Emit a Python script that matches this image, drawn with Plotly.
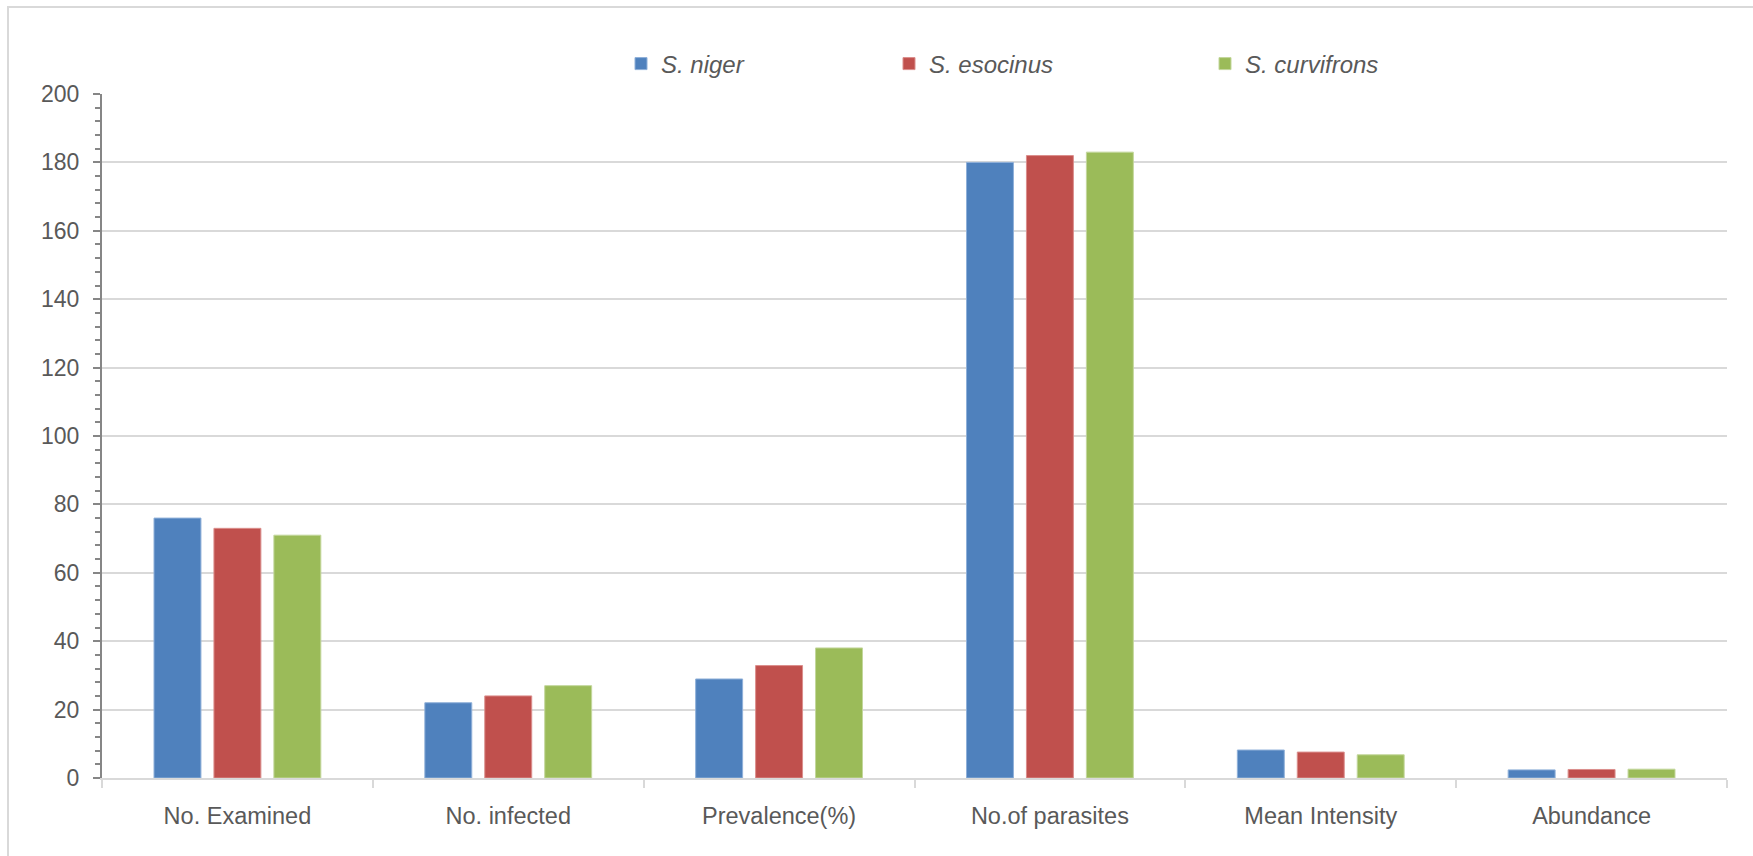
import plotly.graph_objects as go

# Parasite infection indices for three Schizothorax species
categories = ["No. Examined", "No. infected", "Prevalence(%)",
              "No.of parasites", "Mean Intensity", "Abundance"]
s_niger = [76, 22, 28.95, 180, 8.18, 2.37]
s_esocinus = [73, 24, 32.88, 182, 7.58, 2.49]
s_curvifrons = [71, 27, 38.03, 183, 6.78, 2.58]
series_names = ["<i>S. niger</i>", "<i>S. esocinus</i>", "<i>S. curvifrons</i>"]
y_ticks = [0, 20, 40, 60, 80, 100, 120, 140, 160, 180, 200]

colors = ["#4F81BD", "#C0504D", "#9BBB59"]
edge_colors = ["#8FB0D9", "#DB8E8C", "#C3D79C"]
legend_ids = ["legend", "legend2", "legend3"]

TEXT = "#595959"
FONT = "Liberation Sans, Arial, sans-serif"

fig = go.Figure()
for name, vals, c, ec, lg in zip(series_names,
                                 [s_niger, s_esocinus, s_curvifrons],
                                 colors, edge_colors, legend_ids):
    fig.add_trace(go.Bar(
        x=categories, y=vals, name=name, legend=lg,
        marker=dict(color=c, line=dict(color=ec, width=1)),
    ))

W, H = 1753, 856
ML, MR, MT, MB = 102, 26, 94, 78
plot_w = W - ML - MR
plot_h = H - MT - MB


def px_to_paper_x(px):
    return (px - ML) / plot_w


def px_to_paper_y(py):
    return (H - MB - py) / plot_h


legend_common = dict(
    orientation="h", xanchor="left", yanchor="middle",
    y=px_to_paper_y(64), bgcolor="rgba(0,0,0,0)", borderwidth=0,
    font=dict(family=FONT, size=24, color=TEXT), itemwidth=30,
)

fig.update_layout(
    width=W, height=H,
    margin=dict(l=ML, r=MR, t=MT, b=MB, pad=0),
    paper_bgcolor="white", plot_bgcolor="white",
    barmode="group", bargap=0.336, bargroupgap=0.217,
    font=dict(family=FONT, color=TEXT),
    showlegend=True,
    legend=dict(x=px_to_paper_x(621), **legend_common),
    legend2=dict(x=px_to_paper_x(889), **legend_common),
    legend3=dict(x=px_to_paper_x(1205), **legend_common),
    xaxis=dict(
        type="category", tickson="boundaries",
        ticks="outside", ticklen=8, tickwidth=2, tickcolor="#D9D9D9",
        showline=True, linecolor="#D9D9D9", linewidth=2,
        showgrid=False, zeroline=False,
        tickfont=dict(family=FONT, size=23.5, color=TEXT),
        ticklabelstandoff=16,
    ),
    yaxis=dict(
        range=[0, 200], tickvals=y_ticks, ticktext=[str(v) for v in y_ticks],
        ticks="outside", ticklen=7, tickwidth=2, tickcolor="#868686",
        showline=True, linecolor="#868686", linewidth=2,
        showgrid=True, gridcolor="#D9D9D9", gridwidth=2,
        zeroline=False,
        minor=dict(dtick=4, tick0=0, ticks="outside", ticklen=5,
                   tickwidth=2, tickcolor="#868686", showgrid=False),
        tickfont=dict(family=FONT, size=23, color=TEXT),
        ticklabelstandoff=9,
    ),
    shapes=[dict(
        type="rect", xref="paper", yref="paper",
        x0=px_to_paper_x(8), x1=px_to_paper_x(1800),
        y0=px_to_paper_y(900), y1=px_to_paper_y(7),
        line=dict(color="#D9D9D9", width=2), fillcolor="rgba(0,0,0,0)",
        layer="below",
    )],
)

fig.write_html("out.html")
